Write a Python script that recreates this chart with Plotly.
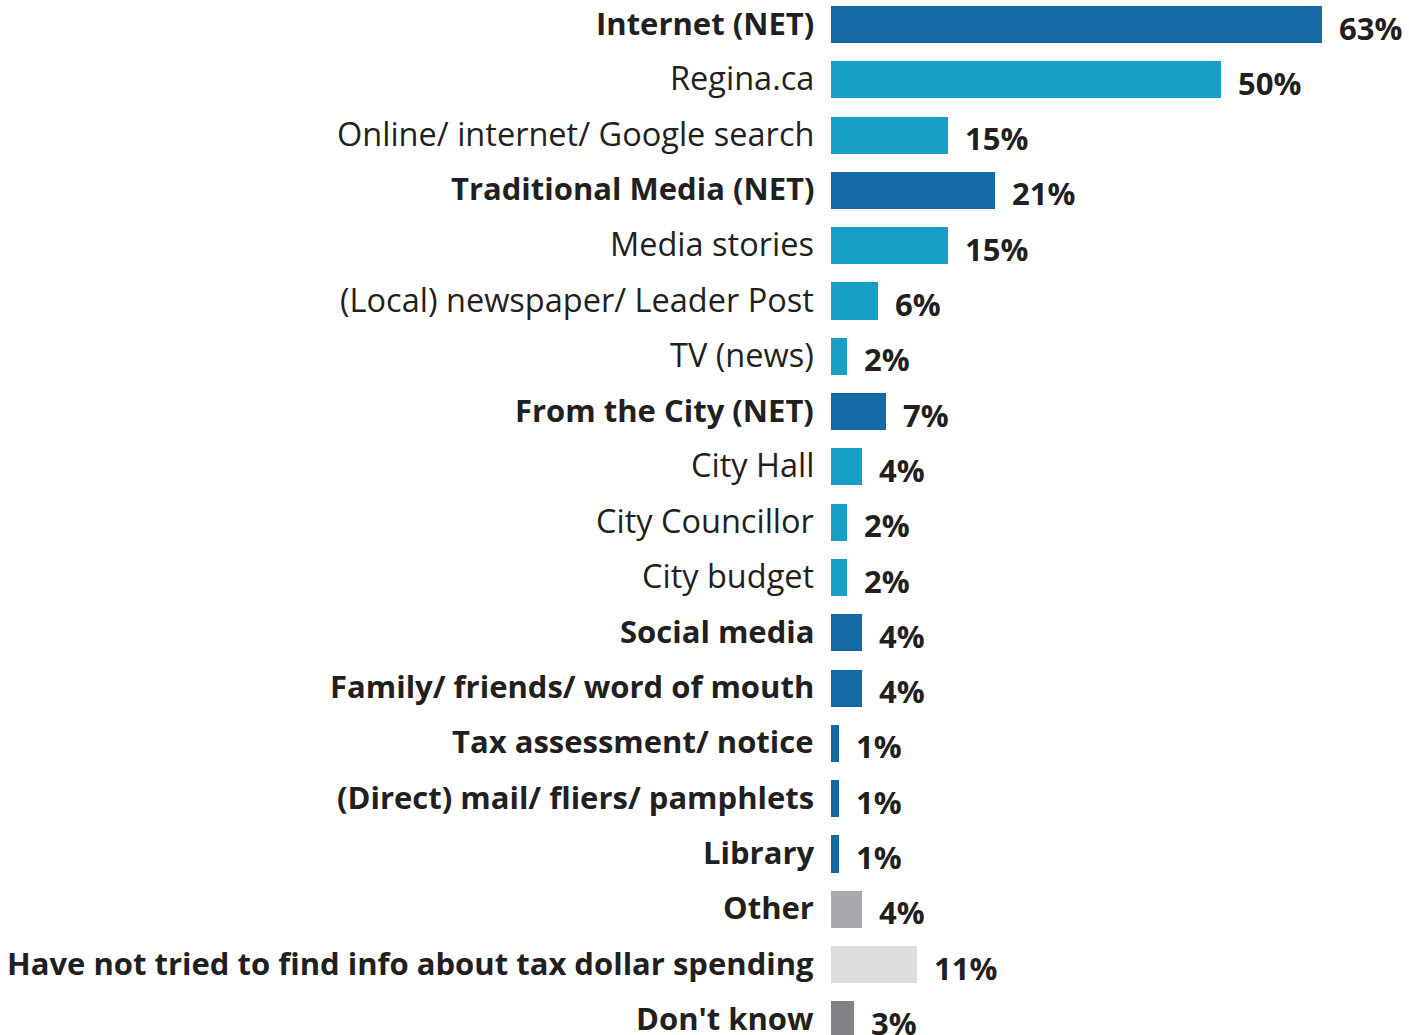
import plotly.graph_objects as go

categories = [
    "Internet (NET)",
    "Regina.ca",
    "Online/ internet/ Google search",
    "Traditional Media (NET)",
    "Media stories",
    "(Local) newspaper/ Leader Post",
    "TV (news)",
    "From the City (NET)",
    "City Hall",
    "City Councillor",
    "City budget",
    "Social media",
    "Family/ friends/ word of mouth",
    "Tax assessment/ notice",
    "(Direct) mail/ fliers/ pamphlets",
    "Library",
    "Other",
    "Have not tried to find info about tax dollar spending",
    "Don't know",
]
values = [63, 50, 15, 21, 15, 6, 2, 7, 4, 2, 2, 4, 4, 1, 1, 1, 4, 11, 3]
# row kind: net / sub / main / other / none / dk
kinds = ["net", "sub", "sub", "net", "sub", "sub", "sub", "net", "sub", "sub", "sub",
         "main", "main", "main", "main", "main", "other", "none", "dk"]

kind_colors = {
    "net": "#136aa5",
    "main": "#136aa5",
    "sub": "#189fc8",
    "other": "#a7a9ac",
    "none": "#dcdddf",
    "dk": "#808285",
}
text_color = "#231f20"
font_family = "'Open Sans', Lato, sans-serif"

y_pos = list(range(len(categories)))
colors = [kind_colors[k] for k in kinds]

fig = go.Figure(
    go.Bar(
        x=values,
        y=y_pos,
        orientation="h",
        marker=dict(color=colors, line=dict(width=0)),
        width=0.67,
        hoverinfo="skip",
    )
)

annotations = []
for i, (cat, val, kind) in enumerate(zip(categories, values, kinds)):
    if kind == "sub":
        label, size = cat, 32.5
    else:
        label, size = f"<b>{cat}</b>", 31
    annotations.append(dict(
        x=0, y=i, xref="x", yref="y", text=label, showarrow=False,
        xanchor="right", yanchor="middle", xshift=-15, yshift=2,
        font=dict(family=font_family, size=size, color=text_color),
    ))
    annotations.append(dict(
        x=val, y=i, xref="x", yref="y", text=f"<b>{val}%</b>", showarrow=False,
        xanchor="left", yanchor="middle", xshift=15, yshift=-3,
        font=dict(family=font_family, size=31, color=text_color),
    ))

fig.update_layout(
    width=1409,
    height=1035,
    margin=dict(l=831, r=0, t=0, b=0),
    paper_bgcolor="white",
    plot_bgcolor="white",
    showlegend=False,
    bargap=0,
    annotations=annotations,
    xaxis=dict(range=[0, 578 / 7.79], visible=False, fixedrange=True),
    yaxis=dict(range=[(1035 - 24.5) / 55.3, -24.5 / 55.3], visible=False, fixedrange=True),
)

fig.write_html("out.html")
